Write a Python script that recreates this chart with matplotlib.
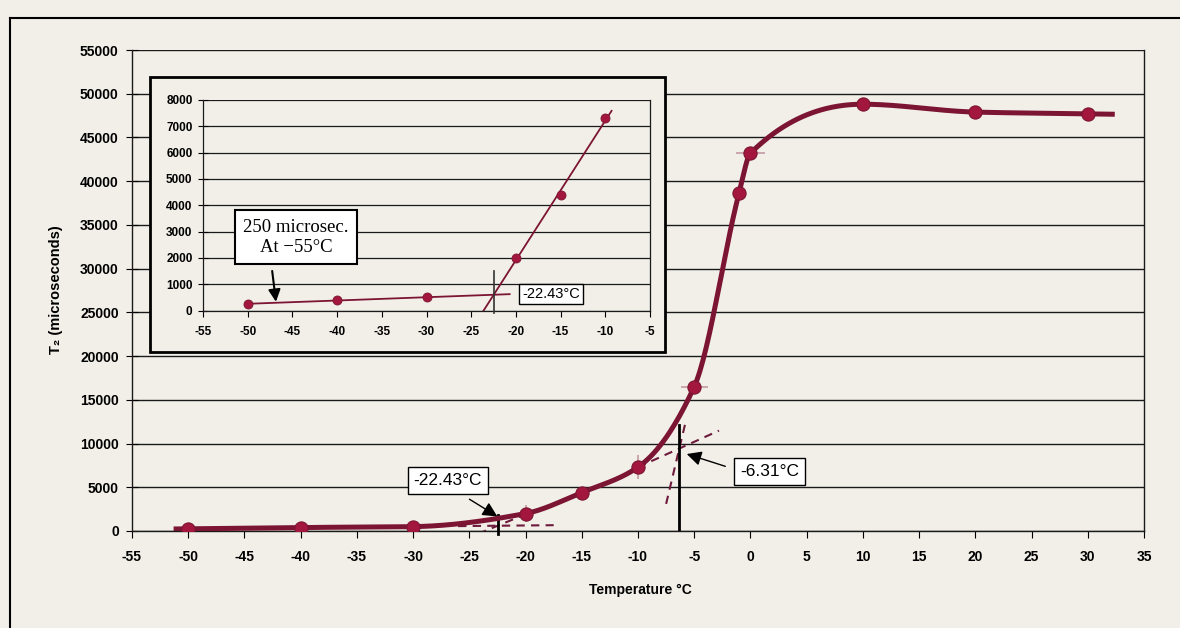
import numpy as np
import matplotlib.pyplot as plt
from matplotlib.patches import Rectangle
from matplotlib.lines import Line2D

plt.rcParams['font.family'] = ['Liberation Sans', 'DejaVu Sans']
plt.rcParams['axes.unicode_minus'] = False

# measured T2 relaxation vs temperature
temp = [-50, -40, -30, -20, -15, -10, -5, -1, 0, 10, 20, 30]
t2 = [250, 400, 500, 2000, 4400, 7300, 16500, 38700, 43200, 48800, 47900, 47700]

# small cross bars on some of the points
yerr_x = [-20, -10]
yerr_v = [1000, 1400]
xerr_x = [-5, 0]
xerr_v = [1.2, 1.3]

# points used for the straight-line fits
low_x, low_y = temp[0:3], t2[0:3]          # frozen plateau
rise_x, rise_y = temp[3:6], t2[3:6]        # first rise
mid_x, mid_y = temp[4:6], t2[4:6]          # slope before the jump
jump_x, jump_y = temp[6:9], t2[6:9]        # steep part

onset1 = -22.43
onset2 = -6.31

paper = '#f1efe8'
maroon = '#7c1433'
dot = '#a3173f'


def pchip(x, y, xs):
    x = np.asarray(x, float)
    y = np.asarray(y, float)
    h = np.diff(x)
    d = np.diff(y) / h
    m = np.zeros(len(x))
    m[0], m[-1] = d[0], d[-1]
    for k in range(1, len(x) - 1):
        if d[k - 1] * d[k] > 0:
            w1 = 2 * h[k] + h[k - 1]
            w2 = h[k] + 2 * h[k - 1]
            m[k] = (w1 + w2) / (w1 / d[k - 1] + w2 / d[k])
    out = np.empty_like(xs)
    for i, xv in enumerate(xs):
        if xv <= x[0]:
            out[i] = y[0] + m[0] * (xv - x[0])
            continue
        if xv >= x[-1]:
            out[i] = y[-1] + m[-1] * (xv - x[-1])
            continue
        k = np.searchsorted(x, xv) - 1
        t = (xv - x[k]) / h[k]
        h00 = 2 * t**3 - 3 * t**2 + 1
        h10 = t**3 - 2 * t**2 + t
        h01 = -2 * t**3 + 3 * t**2
        h11 = t**3 - t**2
        out[i] = h00 * y[k] + h10 * h[k] * m[k] + h01 * y[k + 1] + h11 * h[k] * m[k + 1]
    return out


def line_fit(x, y):
    a, b = np.polyfit(x, y, 1)
    return lambda v: a * np.asarray(v) + b


f_low = line_fit(low_x, low_y)
f_rise = line_fit(rise_x, rise_y)
f_mid = line_fit(mid_x, mid_y)
f_jump = line_fit(jump_x, jump_y)

fig = plt.figure(figsize=(11.8, 6.28), dpi=100)
fig.patch.set_facecolor(paper)

# outer chart frame
fig.add_artist(Line2D([10 / 1180, 1], [1 - 18 / 628] * 2, color='black', lw=1.5))
fig.add_artist(Line2D([10 / 1180] * 2, [0, 1 - 18 / 628], color='black', lw=1.5))

ax = fig.add_axes([132 / 1180, 1 - 531 / 628, 1012 / 1180, 481 / 628])
ax.set_facecolor(paper)
ax.set_xlim(-55, 35)
ax.set_ylim(0, 55000)
ax.set_xticks(range(-55, 36, 5))
ax.set_yticks(range(0, 55001, 5000))
ax.grid(axis='y', color='#1a1a1a', lw=1.0)
ax.set_axisbelow(True)
ax.spines['top'].set_visible(False)
for s in ['left', 'right', 'bottom']:
    ax.spines[s].set_color('#1a1a1a')
    ax.spines[s].set_linewidth(1.0)
ax.tick_params(axis='x', direction='out', length=5, pad=9, labelsize=10)
ax.tick_params(axis='y', direction='inout', length=9, pad=5, labelsize=10)
for lab in ax.get_xticklabels() + ax.get_yticklabels():
    lab.set_fontweight('bold')

# tangent lines used to find the onset temperatures
dash = dict(color='#6e1a3c', lw=1.5, ls=(0, (4, 3)), zorder=3)
xa = np.array([-26, -17.5])
ax.plot(xa, f_low(xa), **dash)
xb = np.array([-24.2, -19.5])
ax.plot(xb, f_rise(xb), **dash)
xc = np.array([-10, -2.8])
ax.plot(xc, f_mid(xc), **dash)
xd = np.array([-7.5, -5.8])
ax.plot(xd, f_jump(xd), **dash)

ax.plot([onset1, onset1], [-300, 1800], color='black', lw=2, zorder=4, clip_on=False)
ax.plot([onset2, onset2], [0, 12100], color='black', lw=2, zorder=4)

# smooth curve through the measurements
xs = np.linspace(temp[0] - 1.3, temp[-1] + 2.4, 600)
ax.plot(xs, pchip(temp, t2, xs), color=maroon, lw=3.6, zorder=5, solid_capstyle='butt')

ax.errorbar(yerr_x, [t2[temp.index(v)] for v in yerr_x], yerr=yerr_v, fmt='none',
            ecolor='#c49aa5', elinewidth=1.2, zorder=4.5)
ax.errorbar(xerr_x, [t2[temp.index(v)] for v in xerr_x], xerr=xerr_v, fmt='none',
            ecolor='#c49aa5', elinewidth=1.2, zorder=4.5)
ax.plot(temp, t2, 'o', ms=9.5, color=dot, mec=maroon, mew=0.8, zorder=6)

box = dict(boxstyle='square,pad=0.35', fc='white', ec='black', lw=1.0)
arr = dict(arrowstyle='-|>', color='black', lw=1.0, mutation_scale=22)
ax.text(-26.9, 5760, '%.2f°C' % onset1, ha='center', va='center', fontsize=12.5, bbox=box, zorder=8)
ax.annotate('', xy=(-22.3, 1500), xytext=(-25.2, 3800), arrowprops=arr, zorder=8)
ax.text(1.7, 6810, '%.2f°C' % onset2, ha='center', va='center', fontsize=12.5, bbox=box, zorder=8)
ax.annotate('', xy=(-5.9, 8900), xytext=(-2.0, 7300), arrowprops=arr, zorder=8)

fig.text(640 / 1180, 1 - 590 / 628, 'Temperature °C', ha='center', va='center',
         fontsize=10, fontweight='bold')
fig.text(56 / 1180, 1 - 290 / 628, 'T₂ (microseconds)', ha='center', va='center',
         rotation=90, fontsize=10.5, fontweight='bold')

# frame of the zoomed inset
ax.add_patch(Rectangle((150 / 1180, 1 - 352 / 628), 515 / 1180, 275 / 628,
                       transform=fig.transFigure, fc=paper, ec='black', lw=2,
                       clip_on=False, zorder=10))

ins = fig.add_axes([203 / 1180, 1 - 310.6 / 628, 447 / 1180, 210.6 / 628])
ins.set_facecolor(paper)
ins.set_xlim(-55, -5)
ins.set_ylim(0, 8000)
ins.set_xticks(range(-55, -4, 5))
ins.set_yticks(range(0, 8001, 1000))
ins.grid(axis='y', color='#1a1a1a', lw=0.9)
ins.set_axisbelow(True)
ins.spines['top'].set_visible(False)
for s in ['left', 'right', 'bottom']:
    ins.spines[s].set_color('#1a1a1a')
    ins.spines[s].set_linewidth(0.9)
ins.tick_params(axis='x', direction='out', length=4, pad=7, labelsize=8.5)
ins.tick_params(axis='y', direction='inout', length=7, pad=4, labelsize=8.5)
for lab in ins.get_xticklabels() + ins.get_yticklabels():
    lab.set_fontweight('bold')

xl = np.array([temp[0], -20.7])
ins.plot(xl, f_low(xl), color=maroon, lw=1.3, zorder=3)
a_r, b_r = np.polyfit(rise_x, rise_y, 1)
xr = np.array([-b_r / a_r, -9.3])
ins.plot(xr, f_rise(xr), color=maroon, lw=1.3, zorder=3)
ins.plot([onset1, onset1], [-100, 1500], color='#333', lw=1.2, zorder=3, clip_on=False)

sel = [i for i, v in enumerate(temp) if v <= -10]
ins.plot([temp[i] for i in sel], [t2[i] for i in sel], 'o', ms=6.5, color=dot, mec=maroon,
         mew=0.6, zorder=4)

ins.text(-19.3, 640, '%.2f°C' % onset1, ha='left', va='center', fontsize=10.5,
         bbox=dict(boxstyle='square,pad=0.2', fc='white', ec='black', lw=1.0), zorder=6)
ins.text(-44.6, 2780, '250 microsec.\nAt \u221255°C', ha='center', va='center', fontsize=13.5,
         family=['Liberation Serif', 'DejaVu Serif'], linespacing=1.25,
         bbox=dict(boxstyle='square,pad=0.45', fc='white', ec='black', lw=1.5), zorder=6)
ins.annotate('', xy=(-46.8, 230), xytext=(-47.3, 1610),
             arrowprops=dict(arrowstyle='-|>', color='black', lw=1.5, mutation_scale=18), zorder=6)

fig.savefig('out.png', dpi=100, facecolor=paper)
